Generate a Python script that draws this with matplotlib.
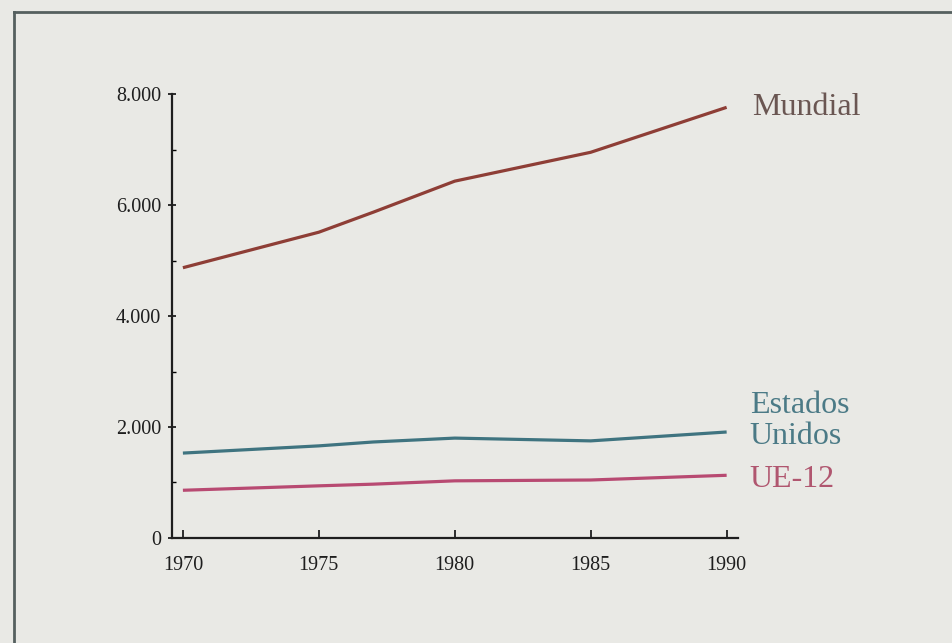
import matplotlib
matplotlib.use("Agg")
import matplotlib.pyplot as plt
from matplotlib.lines import Line2D
from matplotlib.ticker import MultipleLocator, FuncFormatter

years = [1970, 1975, 1977, 1980, 1985, 1990]
mundial = [4870, 5510, 5870, 6430, 6950, 7760]
estados_unidos = [1530, 1660, 1730, 1800, 1750, 1910]
ue12 = [860, 940, 970, 1030, 1045, 1130]

xticks = [1970, 1975, 1980, 1985, 1990]
yticks = [0, 2000, 4000, 6000, 8000]

bg = "#e9e9e5"
plt.rcParams["font.family"] = ["Liberation Serif", "DejaVu Serif"]

fig = plt.figure(figsize=(9.52, 6.43), dpi=100, facecolor=bg)
ax = fig.add_axes([0.1807, 0.1633, 0.594, 0.6905], facecolor=bg)

ax.plot(years, mundial, color="#8e3e36", lw=2.3, solid_capstyle="butt")
ax.plot(years, estados_unidos, color="#3f7480", lw=2.3, solid_capstyle="butt")
ax.plot(years, ue12, color="#b84a72", lw=2.3, solid_capstyle="butt")

ax.set_xlim(1969.6, 1990.4)
ax.set_ylim(0, 8000)
ax.set_xticks(xticks)
ax.set_yticks(yticks)
ax.yaxis.set_minor_locator(MultipleLocator(1000))
ax.yaxis.set_major_formatter(FuncFormatter(lambda v, p: f"{int(v):,}".replace(",", ".")))

for s in ["top", "right"]:
    ax.spines[s].set_visible(False)
for s in ["left", "bottom"]:
    ax.spines[s].set_linewidth(1.6)
    ax.spines[s].set_color("#1e1e1e")

ax.tick_params(axis="x", direction="in", length=6, width=1.3, labelsize=14.5,
               pad=13, colors="#1e1e1e")
ax.tick_params(axis="y", which="major", direction="inout", length=6, width=1.3,
               labelsize=14.5, pad=5, colors="#1e1e1e")
ax.tick_params(axis="y", which="minor", direction="in", length=3, width=1.0)

# series labels to the right of the line ends
ax.text(1990.95, 7760, "Mundial", color="#6a5652", fontsize=23,
        va="center", ha="left", clip_on=False)
ax.text(1990.85, 2110, "Estados\nUnidos", color="#4b7a86", fontsize=23,
        va="center", ha="left", linespacing=1.1, clip_on=False)
ax.text(1990.85, 1060, "UE-12", color="#b0566f", fontsize=23,
        va="center", ha="left", clip_on=False)

# frame of the figure box
fig.add_artist(Line2D([0.0147, 0.0147], [0.0, 0.981], color="#55605f", lw=2))
fig.add_artist(Line2D([0.0147, 1.0], [0.981, 0.981], color="#55605f", lw=2))

fig.savefig("out.png", dpi=100, facecolor=bg)
